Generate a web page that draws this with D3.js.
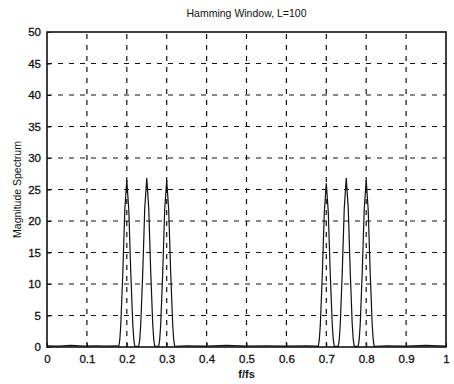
<!DOCTYPE html>
<html><head><meta charset="utf-8">
<script src="https://cdn.jsdelivr.net/npm/d3@7"></script>
<style>
body{margin:0;background:#fff;}
text{font-family:"Liberation Sans",Arial,sans-serif;fill:#111;}
</style></head>
<body><div id="chart"></div>
<script>
const title = "Hamming Window, L=100";
const xLabel = "f/fs";
const yLabel = "Magnitude Spectrum";
const xTicks = [0,0.1,0.2,0.3,0.4,0.5,0.6,0.7,0.8,0.9,1];
const yTicks = [0,5,10,15,20,25,30,35,40,45,50];

const freq = [
 0,0.03,0.06,0.09,0.12,0.15,0.175,
 0.18,0.1825,0.185,0.19,0.195,0.2,0.205,0.21,0.215,0.2175,0.22,
 0.23,0.2325,0.235,0.24,0.245,0.25,0.255,0.26,0.265,0.2675,0.27,
 0.28,0.2825,0.285,0.29,0.295,0.3,0.305,0.31,0.315,0.3175,0.32,
 0.35,0.4,0.45,0.5,0.55,0.6,0.65,0.675,
 0.68,0.6825,0.685,0.69,0.695,0.7,0.705,0.71,0.715,0.7175,0.72,
 0.73,0.7325,0.735,0.74,0.745,0.75,0.755,0.76,0.765,0.7675,0.77,
 0.78,0.7825,0.785,0.79,0.795,0.8,0.805,0.81,0.815,0.8175,0.82,
 0.85,0.9,0.95,1
];
const mag = [
 0.2,0.15,0.25,0.15,0.2,0.15,0.2,
 0.1,1.2,3.6,11.8,21.8,26.5,21.8,11.8,3.6,1.2,0.1,
 0.1,1.2,3.6,11.9,22.0,26.8,22.0,11.9,3.6,1.2,0.1,
 0.1,1.2,3.6,11.8,21.8,26.5,21.8,11.8,3.6,1.2,0.1,
 0.2,0.15,0.25,0.15,0.2,0.15,0.2,0.15,
 0.1,1.2,3.5,11.5,21.4,26.0,21.4,11.5,3.5,1.2,0.1,
 0.1,1.2,3.6,11.9,22.0,26.8,22.0,11.9,3.6,1.2,0.1,
 0.1,1.2,3.6,11.8,21.8,26.5,21.8,11.8,3.6,1.2,0.1,
 0.2,0.15,0.25,0.15
];

const W = 454, H = 384;
const m = {left:47, right:8, top:32, bottom:37};
const svg = d3.select("#chart").append("svg").attr("width",W).attr("height",H);
const x = d3.scaleLinear().domain([0,1]).range([m.left, W-m.right]);
const y = d3.scaleLinear().domain([0,50]).range([H-m.bottom, m.top]);

// grid
const g = svg.append("g");
g.selectAll(".vg").data(xTicks.slice(1,-1)).enter().append("line")
 .attr("x1",d=>x(d)).attr("x2",d=>x(d)).attr("y1",y(0)).attr("y2",y(50))
 .attr("stroke","#111").attr("stroke-width",1.2).attr("stroke-dasharray","5,6");
g.selectAll(".hg").data(yTicks.slice(1,-1)).enter().append("line")
 .attr("y1",d=>y(d)).attr("y2",d=>y(d)).attr("x1",x(0)).attr("x2",x(1))
 .attr("stroke","#111").attr("stroke-width",1.2).attr("stroke-dasharray","5,6");

// axes
const xa = svg.append("g").attr("transform",`translate(0,${y(0)})`)
 .call(d3.axisBottom(x).tickValues(xTicks).tickSize(-4).tickPadding(8).tickFormat(d3.format("")));
const ya = svg.append("g").attr("transform",`translate(${x(0)},0)`)
 .call(d3.axisLeft(y).tickValues(yTicks).tickSize(-4).tickPadding(6));
[xa,ya].forEach(a=>{
 a.select(".domain").remove();
 a.selectAll("line").attr("stroke","#111");
 a.selectAll("text").attr("font-size",11.5).attr("font-family","Liberation Sans, Arial, sans-serif")
  .attr("fill","#111").attr("stroke","#111").attr("stroke-width",0.3);
});

// frame
svg.append("rect").attr("x",x(0)).attr("y",y(50)).attr("width",x(1)-x(0)).attr("height",y(0)-y(50))
 .attr("fill","none").attr("stroke","#111").attr("stroke-width",1.6);

// data line
const pts = freq.map((f,i)=>[f,mag[i]]);
svg.append("path").datum(pts)
 .attr("d",d3.line().x(d=>x(d[0])).y(d=>y(d[1])))
 .attr("fill","none").attr("stroke","#111").attr("stroke-width",1.2);

// labels
svg.append("text").attr("x",(x(0)+x(1))/2).attr("y",17).attr("text-anchor","middle")
 .attr("font-size",10.5).text(title);
svg.append("text").attr("x",(x(0)+x(1))/2).attr("y",378).attr("text-anchor","middle")
 .attr("font-size",11).attr("font-weight","bold").text(xLabel);
svg.append("text").attr("transform",`translate(21,${(y(0)+y(50))/2}) rotate(-90)`)
 .attr("text-anchor","middle").attr("font-size",10.5).text(yLabel);
</script></body></html>
